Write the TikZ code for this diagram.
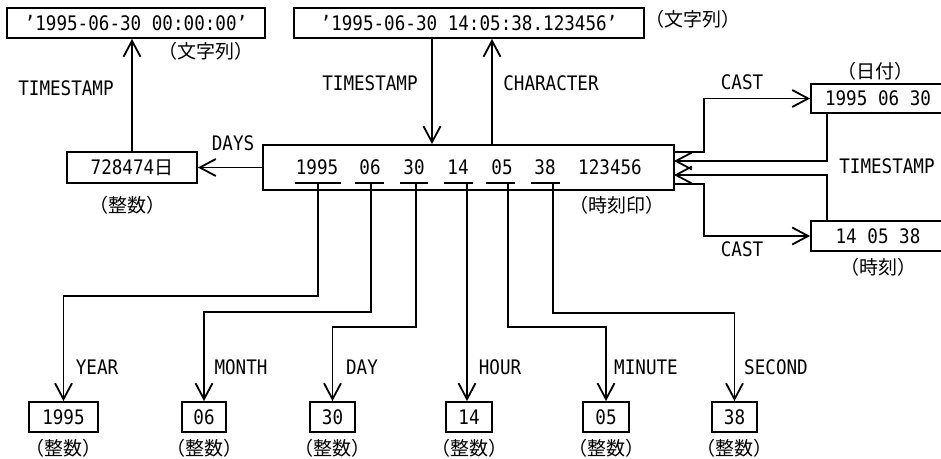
\documentclass[tikz,border=0pt]{standalone}
\usepackage{fontspec}
\setmainfont{DejaVu Sans Mono}[FakeStretch=0.88]
\newfontfamily\jp{Noto Sans CJK JP}
\usetikzlibrary{arrows.meta}
\tikzset{
  lat/.style={font=\fontsize{20}{22}\selectfont, inner sep=0pt},
  jpl/.style={font=\jp\fontsize{19}{21}\selectfont, inner sep=0pt},
  box/.style={draw, line width=1.8pt, inner sep=0pt, font=\fontsize{20}{22}\selectfont},
  arr/.style={line width=1.8pt, -{Straight Barb[length=16pt,width=17pt]}},
  ln/.style={line width=1.8pt}
}
\begin{document}
\begin{tikzpicture}[x=1pt,y=-1pt]
\useasboundingbox (0,0) rectangle (941,458);
\fill[white] (0,0) rectangle (941,458);
\clip (0,0) rectangle (941,458);
% boxes
\node[box, minimum width=258pt, minimum height=30pt] (topL) at (136,23) {'1995-06-30 00:00:00'};
\node[box, minimum width=350pt, minimum height=30pt] (topM) at (469,23) {'1995-06-30 14:05:38.123456'};
\node[box, minimum width=130pt, minimum height=31pt] (days) at (132,167.5) {728474{\jp\fontsize{19}{21}\selectfont 日}};
\node[box, minimum width=411pt, minimum height=45pt] (main) at (468.5,167.5) {};
\node[box, minimum width=134pt, minimum height=29pt] (date) at (878,98.5) {1995 06 30};
\node[box, minimum width=134pt, minimum height=30pt] (time) at (878,236) {14 05 38};
\node[box, minimum width=69pt, minimum height=30pt] (b1) at (63.5,417) {1995};
\node[box, minimum width=44pt, minimum height=30pt] (b2) at (204,417) {06};
\node[box, minimum width=45pt, minimum height=30pt] (b3) at (332.5,417) {30};
\node[box, minimum width=46pt, minimum height=30pt] (b4) at (469,417) {14};
\node[box, minimum width=46pt, minimum height=30pt] (b5) at (606,417) {05};
\node[box, minimum width=45pt, minimum height=30pt] (b6) at (734.5,417) {38};
% main box contents
\node[lat] (m1) at (317,167) {1995};
\node[lat] (m2) at (370,167) {06};
\node[lat] (m3) at (414,167) {30};
\node[lat] (m4) at (458,167) {14};
\node[lat] (m5) at (502,167) {05};
\node[lat] (m6) at (545,167) {38};
\node[lat] (m7) at (610,167) {123456};
\draw[ln] (295,183) -- (341,183);
\draw[ln] (355,183) -- (384,183);
\draw[ln] (400,183) -- (428,183);
\draw[ln] (444,183) -- (473,183);
\draw[ln] (486,183) -- (515,183);
\draw[ln] (531,183) -- (560,183);
\coordinate (u1) at (318,183);
\coordinate (u2) at (371,183);
\coordinate (u3) at (416,183);
\coordinate (u4) at (467,183);
\coordinate (u5) at (508,183);
\coordinate (u6) at (553,183);
% type labels
\node[jpl] (tl1) at (206,51) {（文字列）};
\node[jpl] (tl2) at (693,19) {（文字列）};
\node[jpl] (tl3) at (127,205) {（整数）};
\node[jpl] (tl4) at (617,205) {（時刻印）};
\node[jpl] (tl5) at (875,71) {（日付）};
\node[jpl] (tl6) at (878,267) {（時刻）};
\foreach \b in {b1,b2,b3,b4,b5,b6}{
  \node[jpl, anchor=north] at ([yshift=-6pt]\b.south) {（整数）};
}
% top connectors
\draw[arr] (days.north) -- (days.north |- topL.south);
\node[lat] (lts1) at (66,88) {TIMESTAMP};
\draw[arr] (main.west) -- (days.east);
\node[lat] (ldays) at (233,143) {DAYS};
\coordinate (ta) at (432,0);
\coordinate (ca) at (492,0);
\draw[arr] (topM.south -| ta) -- (main.north -| ta);
\draw[arr] (main.north -| ca) -- (topM.south -| ca);
\node[lat] (lts2) at (370,83) {TIMESTAMP};
\node[lat] (lchr) at (551,83) {CHARACTER};
% right connectors
\coordinate (r1) at (674,152);
\coordinate (r2) at (674,161);
\coordinate (r3) at (674,175);
\coordinate (r4) at (674,184);
\coordinate (rx) at (827,0);
\draw[arr] (r1) -- (704,152) |- (date.west);
\draw[arr] (date.south -| rx) |- (r2);
\draw[arr] (time.north -| rx) |- (r3);
\draw[arr] (r4) -- (704,184) |- (time.west);
\node[lat] (lc1) at (742,82) {CAST};
\node[lat] (lc2) at (742,249) {CAST};
\node[lat] (lts3) at (887,166) {TIMESTAMP};
% bottom connectors
\draw[arr] (u1) -- ++(0,113) -| (b1.north);
\draw[arr] (u2) -- ++(0,129) -| (b2.north);
\draw[arr] (u3) -- ++(0,144) -| (b3.north);
\draw[arr] (u4) -- (u4 |- b4.north);
\draw[arr] (u5) -- ++(0,144) -| (b5.north);
\draw[arr] (u6) -- ++(0,130) -| (b6.north);
\node[lat] (ly) at (97,367) {YEAR};
\node[lat] (lm) at (241,367) {MONTH};
\node[lat] (ld) at (362,367) {DAY};
\node[lat] (lh) at (500,367) {HOUR};
\node[lat] (lmi) at (646,367) {MINUTE};
\node[lat] (ls) at (776,367) {SECOND};
\end{tikzpicture}
\end{document}
